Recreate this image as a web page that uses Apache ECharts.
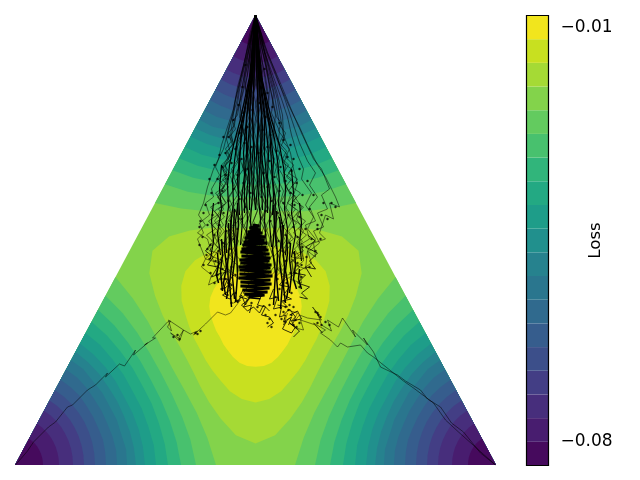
<!DOCTYPE html>
<html><head><meta charset="utf-8">
<style>html,body{margin:0;padding:0;background:#fff}#c{width:640px;height:480px}</style>
<script src="https://cdn.jsdelivr.net/npm/echarts@6/dist/echarts.min.js"></script>
</head><body><div id="c"></div>
<script>
// Colour levels of the Loss scale
const levelMin = -0.084, levelStep = 0.004;
const bandColors = ['#460a5d','#481d6f','#472e7c','#433e85','#3c4f8a','#365d8d','#306a8e','#2a768e','#26828e','#21908d','#1e9d89','#23a983','#31b57b','#48c16e','#63cb5f','#83d34b','#a5da35','#c8e020','#f1e51d'];
const tickValues = [-0.08, -0.01];
// Contours near a corner of the simplex: distance from the corner, at 0, 7.5, 15, 22.5, 30 degrees from the edge
const cornerRadii = [
 [28,28,28,28,28],[44,44,44,44,44],[58,58,58,58,58],[69,69,69,69,69],[80,80,80,80,80],
 [91,91,91,90,90],[102,102,101,100,100],[112,112,110,110,109],[121,120,119,118,118],
 [130,129,128,127,126],[141,140,138,137,136],[153,151,149,148,147],[166,163,160,158,157],
 [181,177,173,170,169],[201,194,188,183,181]];
// Closed contours round the centre: distance from the centre, at 0,10,..,60 degrees from an edge-midpoint direction
const centreRadii = [
 [119,113,102,93,86,81.5,80],[81,79,75,70,67,65,64],[48,48,47,45,43,42,41]];
// Walks: flat x,y lists in simplex units (x from the vertical axis, y above the base)
const walkLeft = [-240,0,-228,14,-222,23,-207,38,-200,43,-188,58,-183,60,-168,75,-160,80,-148,92,-150,88,-136,101,-131,99,-120,115,-122,110,-108,122,-111,120,-100,127,-103,127,-88,143,-85,144,-88,138,-84,134,-87,145,-72,135,-76,124,-85,132,-77,127,-72,135,-65,131,-58,134,-62,130,-50,141,-38,153,-30,150,-25,152,-15,165,-22,162,-10,170];
const walkRightA = [240,0,225,12,208,33,196,42,185,58,172,66,165,75,150,84,142,90,125,98,118,113,108,127,112,120,97,135,100,128,87,147,83,138,72,145,76,134,66,140,62,152,57,158,66,145,52,147,44,150,36,140,42,152,32,155];
const walkRightB = [240,0,203,33,190,45,178,62,158,77,148,84,138,92,118,108,112,112,105,120,92,118,85,122,82,118,75,125,65,132,70,135,58,142,67,132,60,140,45,145,48,135,40,137,34,147,28,140,32,152];
const strands = [
[0,450,-6,425,-12,400,-18,378,-22,356,-28,338,-34,320,-37,306,-40,298,-36,290,-44,276,-42,268,-50,262,-46,250,-56,242,-52,232,-58,226,-54,216,-50,206,-54,198,-44,190,-47,180,-35,186,-30,176],
[0,450,-4,420,-9,395,-13,372,-19,352,-24,330,-22,318,-30,300,-28,286,-35,272,-30,262,-38,250,-32,240,-42,230,-36,220,-44,210,-40,198,-33,204,-28,190],
[0,450,-5,418,-8,390,-14,366,-16,348,-12,335,-20,318,-17,304,-26,290,-20,278,-28,265,-24,252,-30,244,-25,232,-33,220,-26,210,-30,198,-20,190],
[0,450,-3,422,-7,398,-10,378,-8,360,-14,342,-10,326,-17,310,-12,296,-20,284,-15,270,-22,258,-16,246,-24,236,-17,224,-22,212,-14,204,-18,192],
[0,450,-3,415,-5,392,-9,370,-6,350,-12,332,-7,318,-13,300,-8,288,-15,272,-10,260,-16,246,-9,236,-14,222,-8,212,-12,198],
[0,450,-2,420,-4,396,-2,376,-7,358,-3,340,-8,322,-4,308,-10,292,-5,280,-11,264,-6,250,-12,238,-6,226,-10,214,-4,204,-8,190],
[0,450,-2,418,-1,394,-5,372,-2,352,-6,336,-1,320,-7,302,-2,288,-8,276,-3,262,-7,246,-2,234,-7,222,-2,210,-5,196],
[0,450,-1,420,-3,400,0,380,-4,362,1,344,-3,328,2,312,-4,296,1,282,-3,268,2,254,-4,240,1,228,-3,214,2,202,-2,188],
[0,450,0,416,1,392,-2,372,2,354,-2,336,3,318,-1,300,4,286,-2,272,3,258,-2,244,4,232,-1,218,3,206,-1,194],
[0,450,1,420,0,396,3,376,0,358,4,338,1,322,5,306,1,292,6,278,2,264,7,250,2,238,6,224,1,212,5,200,0,186],
[0,450,1,418,3,398,1,380,5,360,2,344,6,326,3,310,8,296,4,280,9,268,4,252,9,240,4,226,8,214,3,202,6,188],
[0,450,2,420,4,394,3,374,7,356,4,338,9,322,5,306,11,290,6,276,12,262,7,248,12,236,6,224,10,210,4,198],
[0,450,3,422,5,396,8,378,5,358,10,342,7,324,13,308,9,292,15,278,11,262,16,250,10,238,15,224,9,212,13,198,6,190],
[0,450,3,416,7,394,6,372,11,354,8,336,14,320,11,302,17,290,13,274,19,260,14,246,19,234,13,222,17,210,10,200],
[0,450,4,420,8,396,11,376,9,356,15,340,12,322,19,306,15,292,22,276,18,262,24,250,18,238,23,224,16,214,20,200,12,190],
[0,450,5,422,10,400,14,378,13,358,19,338,17,320,24,304,21,288,28,274,24,260,30,248,25,236,30,224,22,212,26,200,16,190],
[0,450,6,418,12,394,18,372,16,352,24,334,22,316,30,300,28,284,35,270,30,256,36,244,30,232,35,220,27,210,30,198,20,188],
[0,450,7,420,14,396,21,374,27,350,28,330,35,312,38,296,42,282,38,270,46,258,41,246,48,234,41,222,46,212,36,204,38,190,28,184],
[0,450,8,416,18,388,26,366,32,348,36,330,42,310,48,296,46,286,56,272,50,260,58,248,52,236,60,226,52,214,56,202,44,194,46,182,34,186],
[0,450,10,415,22,385,34,358,44,338,52,320,62,300,70,288,80,268,84,258,74,262,78,246,70,250,64,232,70,226,58,222,60,208,52,214,50,196,40,200],
[0,450,12,412,24,384,38,350,46,332,58,306,66,296,74,276,66,270,72,256,62,252,68,238,58,234,64,222,54,214,46,222,48,204,38,196],
[0,450,9,420,20,392,30,364,38,340,44,322,52,304,60,292,54,280,62,268,54,258,60,244,50,240,54,226,44,220,48,206,36,208,38,192,26,188],
[0,450,-7,414,-15,385,-19,362,-26,340,-32,316,-42,296,-48,278,-52,262,-57,250,-50,240,-58,232,-48,226,-44,212,-50,206,-36,202,-40,190,-26,194],
[0,450,-5,424,-11,392,-16,362,-13,344,-20,326,-16,308,-24,296,-19,280,-27,268,-21,254,-30,240,-22,230,-30,218,-23,206,-26,192,-16,186],
[0,450,-2,426,-6,402,-4,382,-9,364,-5,346,-11,330,-6,312,-13,298,-7,282,-14,268,-8,254,-15,242,-7,230,-13,216,-6,206,-11,192],
[0,450,2,426,2,404,6,384,3,366,8,350,3,332,9,314,4,300,10,284,5,270,12,256,5,244,11,230,5,218,9,204,2,192],
[0,450,4,428,6,406,10,388,13,368,11,348,17,330,14,314,21,298,17,284,24,270,19,256,26,242,20,230,27,218,18,208,22,196],
[0,450,-4,428,-6,408,-11,388,-9,368,-15,350,-12,332,-20,314,-16,298,-24,284,-18,270,-27,256,-20,244,-28,232,-20,220,-27,208,-16,198],
[0,450,6,430,9,412,12,392,16,370,20,350,18,334,25,316,21,300,27,290,32,276,26,264,34,252,28,238,36,228,28,216,32,204,24,196],
[0,450,-6,430,-10,408,-15,386,-20,366,-24,346,-29,326,-25,312,-33,298,-29,282,-38,270,-32,256,-41,244,-34,234,-40,220,-31,212,-36,200],
[0,450,-12,385,-18,350,-23,344,-20,336,-26,328,-23,320,-30,312,-26,304,-33,296,-28,288,-36,282,-30,274,-38,268,-32,260,-41,254,-35,246,-43,240,-36,232,-44,224,-36,216,-42,208,-32,204],
[0,450,13,385,21,348,26,342,23,334,29,326,25,318,32,310,28,302,36,296,31,288,39,282,33,274,41,268,35,260,43,254,37,246,46,240,38,232,47,224,39,216,44,208,34,202],
[0,450,-16,375,-21,340,-27,332,-24,324,-30,316,-26,308,-34,300,-29,292,-37,286,-31,278,-40,272,-34,264,-45,258,-38,250,-47,244,-40,236,-49,230,-41,222,-46,214,-36,212],
[0,450,18,375,24,340,30,332,27,324,34,316,30,308,38,300,33,292,42,286,36,278,45,272,38,264,48,258,41,250,50,244,43,236,51,230,42,222,48,214,38,210],
[0,450,-20,365,-25,330,-22,322,-28,314,-24,306,-31,300,-26,292,-33,286,-27,278,-35,270,-29,262,-37,256,-31,248,-38,242,-31,234,-37,226,-29,220],
[0,450,22,365,28,330,24,322,31,314,27,306,33,300,28,292,36,286,30,278,38,270,32,262,40,256,34,248,41,242,33,234,38,226,30,220]
];
// Heavy vertical streaks where many walks overlap
const streaks = [
[0,450,-1,410,-2,370,-3,345,-2,320,-4,295,-3,270,-5,245,-4,225],
[0,450,1,410,2,372,3,340,2,318,4,296,3,268,5,246,4,225],
[0,450,-2,405,-5,368,-6,340,-8,315,-7,292,-9,268,-8,245,-10,222],
[0,450,2,405,5,365,7,338,6,314,8,290,10,266,9,244,11,220],
[0,450,-3,400,-7,364,-10,336,-12,312,-11,290,-14,266,-13,244,-15,220],
[0,450,3,400,8,362,11,334,13,310,12,288,15,266,14,242,16,218],
[0,450,-4,395,-10,358,-14,330,-16,308,-18,286,-17,266,-20,244,-19,218],
[0,450,4,395,11,356,15,330,18,306,17,286,20,264,19,240,21,216],
[0,450,-5,390,-12,350,-18,326,-21,304,-23,284,-22,262,-25,240,-24,215],
[0,450,5,392,13,350,19,326,22,304,24,282,23,260,27,240,25,214],
[0,450,-6,388,-15,346,-22,320,-26,300,-28,280,-27,258,-30,238,-29,212],
[0,450,6,388,16,345,24,320,28,298,30,278,29,256,32,236,30,210],
[0,450,-1,400,-3,350,-1,310,-2,280,0,255],
[0,450,1,400,3,350,1,312,2,280,0,255],
[0,450,-2,400,-6,352,-5,312,-6,280,-6,255],
[0,450,2,400,6,352,5,312,6,280,7,255],
[0,450,-4,385,-9,348,-9,310,-11,278,-11,252],
[0,450,4,385,9,348,9,310,12,278,12,252],
[0,450,-6,380,-14,340,-16,300,-17,270,-16,250],
[0,450,7,380,14,340,16,300,18,270,17,250],
[-34,300,-36,276,-34,256,-38,232,-35,210],
[36,296,38,272,36,252,40,230,36,208],
[-42,262,-44,244,-42,224,-45,206],
[44,262,46,242,44,222,46,204]
];
// Dense core of the tangle near the centre
const core = [-3,240,4,239,-6,237,5,235,-8,233,7,232,-9,230,10,228,-11,227,9,225,-12,223,12,222,-13,220,11,218,-14,216,13,215,-15,213,14,211,-14,209,15,207,-16,205,14,204,-15,202,16,200,-17,198,15,197,-16,195,16,193,-16,191,17,189,-17,187,15,185,-15,183,16,181,-15,179,14,177,-13,175,12,173,-11,171,9,170,-7,168,5,167];
// Vertical runs of the tangle beside the core
const coreColumns = [
[-18,262,-17,240,-19,218,-18,190,-20,163],
[-21,256,-22,236,-20,212,-23,188,-21,166],
[-24,250,-25,228,-23,206,-26,182,-24,158],
[-27,242,-26,222,-28,200,-27,180,-29,166],
[-30,234,-31,216,-29,198,-32,182,-30,170],
[-34,226,-33,210,-35,194,-33,174],
[-38,212,-37,200,-39,190,-37,182],
[18,260,19,238,17,216,20,192,18,160],
[21,254,20,232,22,210,21,188,23,164],
[24,248,26,226,24,204,27,182,25,156],
[28,240,27,220,29,198,28,178,30,162],
[31,230,32,212,30,194,33,178,31,166],
[35,222,34,206,36,190,34,172],
[39,214,40,200,38,186,41,176],
[44,196,43,186,46,176]
];
// Local clumps of the walks, drawn as small dots
const clumps = [
[-10,400],[9,396],[-13,378],[12,372],[-6,382],[6,385],[-17,360],[17,358],[-12,352],[10,348],[-3,355],[4,362],[-22,345],[24,342],[-8,338],[7,335],[-16,332],[15,330],[-27,328],[28,325],[-11,322],[12,318],[-20,316],[21,314],[-30,312],[32,308],[-4,318],[3,312],[-14,306],[14,304],[-24,302],[25,298],[-33,298],[36,294],[-8,296],[8,292],[-18,290],[19,288],[-28,286],[30,284],[-38,286],[41,282],[-12,282],[12,278],[-22,276],[24,274],[-33,274],[35,272],[-44,272],[47,270],[-5,272],[6,268],[-16,266],[16,264],[-27,264],[28,262],[-37,262],[39,260],[-50,260],[54,256],[-10,258],[10,254],[-21,254],[22,252],[-32,252],[33,250],[-43,250],[44,248],[-14,246],[15,244],[-25,244],[26,242],[-36,240],[38,238],[-48,240],[50,236],[-56,238],[62,240],[-18,236],[19,234],[-29,234],[30,230],[-41,230],[42,228],[-53,228],[56,226],[-22,226],[23,224],[-33,222],[34,222],[-45,220],[47,218],[-56,220],[65,226],[-26,216],[27,214],[-37,214],[38,212],[-49,210],[51,208],[60,214],[-29,206],[30,204],[-40,204],[42,202],[-52,200],[54,198],[-24,198],[25,196],[-33,196],[35,192],[-45,192],[46,188],[-20,190],[22,186],[-30,186],[31,182],[-41,182],[44,178],[-24,180],[24,176],[-34,176],[36,172],[-20,172],[20,168],[-28,170],[29,164],[-18,164],[14,160],[-24,162],[38,158],[33,155],[30,158],[34,160],[28,153],[36,150],[40,145],[38,140],[41,138],[44,142],[62,152],[63,150],[60,153],[65,148],[62,142],[66,140],[70,143],[74,140],[-78,130],[-82,128],[-76,126],[-60,132],[-58,131],[-55,134],[-8,170],[-4,162],[2,158],[10,150],[14,146],[20,150],[12,142],[16,138],[26,146],[30,143],
[-32,328],[35,320],[-36,310],[38,306],[-41,300],[44,296],[-46,286],[52,284],[-30,290],[58,270],[68,262],[76,262],[80,258],[66,250],[72,246],[62,236],[-52,252],[-55,244],[-48,216],[-46,206],[46,200],[40,192],[-38,190]
];
// Small scribbles around the core
const tangles = [
[-22,190,-28,182,-24,176,-33,170,-26,166,-22,172,-18,162,-14,170,-10,160,-6,168],
[-34,208,-38,198,-30,194,-36,186,-28,186,-32,176,-24,182],
[22,196,30,188,24,180,34,178,28,170,36,166,26,164,32,158,22,160],
[18,176,14,166,22,168,18,156,26,158,24,148,30,150,28,143,36,148,33,140],
[6,170,2,160,10,158,6,150,14,148,18,142,12,138],
[-12,176,-16,168,-8,166,-12,158,-4,160,-6,152],
[36,206,44,198,38,192,50,190,42,182,54,178,46,172,52,166,44,168],
[52,230,60,224,50,218,62,212,54,204,60,196,50,198,56,188],
[-44,222,-50,214,-42,208,-48,200,-38,198,-44,188,-34,192],
[28,150,34,156,40,148,36,144,46,146,42,154,34,150],
[-4,185,-12,172,-6,166,-14,160,-8,154,-2,158,4,152,8,160,14,154],
[30,142,27,136,36,132,40,138,34,142,44,134,38,128]
];

// ---- simplex helpers: contour radii are measured with the triangle made equilateral ----
const side = 481, halfSide = side / 2, height = 450;
const yToEq = (side * Math.sqrt(3) / 2) / height;
const cornerPos = [[-halfSide, 0, 0], [halfSide, 0, 120], [0, height, 240]];
function cornerPolygon(radii, c) {
  const profile = radii.concat(radii.slice(0, -1).reverse());
  const pts = [[c[0], c[1]]];
  profile.forEach((r, i) => {
    const a = (c[2] + i * 7.5) * Math.PI / 180;
    pts.push([c[0] + r * Math.cos(a), c[1] + r * Math.sin(a) / yToEq]);
  });
  return pts;
}
function centrePolygon(radii) {
  const cy = height / 3, profile = radii.concat(radii.slice(1, -1).reverse());
  const pts = [];
  for (let t = 0; t < 3; t++) profile.forEach((r, i) => {
    const a = (-90 + t * 120 + i * 10) * Math.PI / 180;
    pts.push([r * Math.cos(a), cy + r * Math.sin(a) / yToEq]);
  });
  return pts;
}
const polys = [{ pts: [[-halfSide, 0], [halfSide, 0], [0, height]], color: bandColors[15] }];
for (let k = cornerRadii.length - 1; k >= 0; k--)
  cornerPos.forEach(c => polys.push({ pts: cornerPolygon(cornerRadii[k], c), color: bandColors[k] }));
centreRadii.forEach((r, i) => polys.push({ pts: centrePolygon(r), color: bandColors[16 + i] }));

const toPairs = f => { const o = []; for (let i = 0; i < f.length; i += 2) o.push([f[i], f[i + 1]]); return o; };
const line = (flat, w) => ({
  type: 'line', xAxisIndex: 0, yAxisIndex: 0, data: toPairs(flat), showSymbol: false, silent: true, z: 5,
  lineStyle: { color: '#000', width: w }, animation: false
});

const bands = bandColors.map((c, i) => [levelMin + i * levelStep, levelMin + (i + 1) * levelStep]);
const font = '"DejaVu Sans"';
const chart = echarts.init(document.getElementById('c'), null, { renderer: 'canvas' });
chart.setOption({
  animation: false,
  backgroundColor: '#fff',
  grid: [
    { left: 15, top: 15, width: side, height: height },
    { left: 526.5, top: 15.5, width: 22, height: 450 }
  ],
  xAxis: [
    { gridIndex: 0, type: 'value', min: -halfSide, max: halfSide, show: false },
    { gridIndex: 1, type: 'value', min: 0, max: 1, show: false }
  ],
  yAxis: [
    { gridIndex: 0, type: 'value', min: 0, max: height, show: false },
    { gridIndex: 1, type: 'value', min: levelMin, max: levelMin + 19 * levelStep, position: 'right',
      name: 'Loss', nameLocation: 'middle', nameGap: 39, nameRotate: 90, nameMoveOverlap: false,
      nameTextStyle: { fontFamily: font, fontSize: 16.67, color: '#000' },
      splitLine: { show: false }, axisLine: { show: false },
      axisTick: { show: true, length: 5, inside: false, customValues: tickValues, lineStyle: { color: '#000', width: 1.1 } },
      axisLabel: { show: true, margin: 12, customValues: tickValues, fontFamily: font, fontSize: 17, color: '#000',
        formatter: v => '\u2212' + Math.abs(v).toFixed(2) } }
  ],
  series: [
    { type: 'custom', xAxisIndex: 0, yAxisIndex: 0, silent: true, z: 1, clip: false,
      data: polys.map((p, i) => [i]), encode: { x: -1, y: -1 },
      renderItem: (params, api) => ({ type: 'polygon',
        shape: { points: polys[params.dataIndex].pts.map(p => api.coord(p)) },
        style: { fill: polys[params.dataIndex].color, stroke: null } }) },
    { type: 'custom', xAxisIndex: 1, yAxisIndex: 1, silent: true, z: 1, clip: false,
      data: bands.map((b, i) => [0, b[0], 1, b[1]]), encode: { x: [0, 2], y: [1, 3] },
      renderItem: (params, api) => {
        const a = api.coord([0, api.value(1)]), b = api.coord([1, api.value(3)]);
        return { type: 'rect', shape: { x: a[0], y: b[1], width: b[0] - a[0], height: a[1] - b[1] },
          style: { fill: bandColors[params.dataIndex], stroke: null } };
      } },
    { type: 'custom', xAxisIndex: 1, yAxisIndex: 1, silent: true, z: 6, clip: false,
      data: [[0, levelMin, 1, levelMin + 19 * levelStep]], encode: { x: [0, 2], y: [1, 3] },
      renderItem: (params, api) => {
        const a = api.coord([0, api.value(1)]), b = api.coord([1, api.value(3)]);
        return { type: 'rect', shape: { x: a[0], y: b[1], width: b[0] - a[0], height: a[1] - b[1] },
          style: { fill: 'none', stroke: '#000', lineWidth: 1.2 } };
      } },
    ...strands.map(s => line(s, 0.5)),
    ...streaks.map(s => line(s, 1.2)),
    ...coreColumns.map(s => line(s, 1.5)),
    line(core, 3),
    ...tangles.map(s => line(s, 0.8)),
    line(walkLeft, 0.5), line(walkRightA, 0.5), line(walkRightB, 0.5),
    { type: 'scatter', xAxisIndex: 0, yAxisIndex: 0, data: clumps, symbolSize: 2.4, silent: true, z: 5,
      itemStyle: { color: '#000' } }
  ]
});
</script></body></html>
